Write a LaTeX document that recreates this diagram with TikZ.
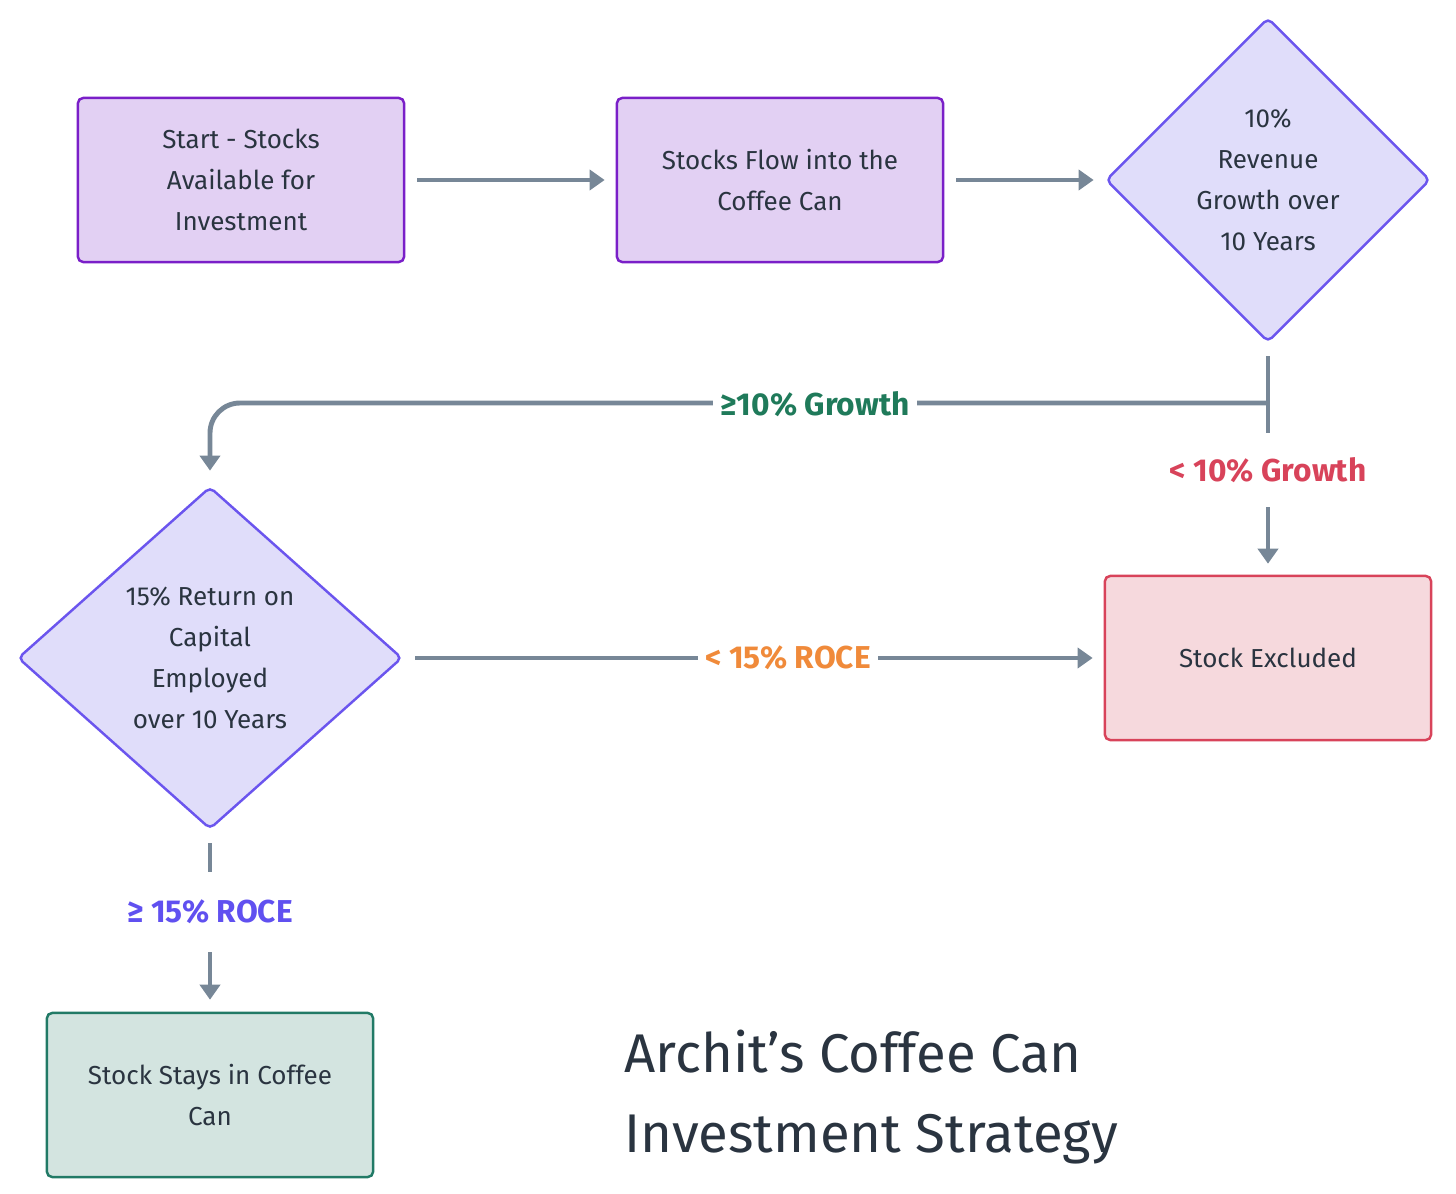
\documentclass[tikz,border=0pt]{standalone}
\usepackage{fontspec}
\setmainfont{Fira Sans}
\usetikzlibrary{shapes.geometric,arrows.meta}
\definecolor{boxf}{HTML}{E2D0F3}\definecolor{boxd}{HTML}{7A1FC8}
\definecolor{diaf}{HTML}{E0DDFA}\definecolor{diad}{HTML}{6B55EE}
\definecolor{exf}{HTML}{F6D9DD}\definecolor{exd}{HTML}{D8435A}
\definecolor{stf}{HTML}{D3E4E0}\definecolor{std}{HTML}{217A66}
\definecolor{arrc}{HTML}{778797}\definecolor{ttl}{HTML}{2A3440}
\definecolor{lgreen}{HTML}{1F7A5A}\definecolor{lred}{HTML}{D8435A}
\definecolor{lorange}{HTML}{F08A3A}\definecolor{lpurple}{HTML}{6050F0}
\begin{document}
\begin{tikzpicture}[x=0.01cm,y=-0.01cm,
  txt/.style={align=center,font=\fontsize{7.4}{11.7}\selectfont,text=ttl},
  pbox/.style={draw=boxd,fill=boxf,line width=0.7pt,rounded corners=1.5pt,minimum width=3.26cm,minimum height=1.64cm,txt},
  dia/.style={diamond,draw=diad,fill=diaf,line width=0.7pt,rounded corners=1.5pt,inner sep=0pt},
  arr/.style={draw=arrc,line width=1.4pt,-{Triangle[length=0.15cm,width=0.2cm]}},
  ln/.style={draw=arrc,line width=1.4pt},
  lab/.style={fill=white,font=\bfseries\fontsize{9}{11}\selectfont,inner sep=2pt}]
\useasboundingbox (0,0) rectangle (1456,1194);
\node[pbox] (start) at (241,180) {Start - Stocks\\Available for\\Investment};
\node[pbox] (flow) at (780,180) {Stocks Flow into the\\Coffee Can};
\node[dia,minimum width=3.24cm,minimum height=3.24cm] (d1) at (1268,180) {};
\node[txt] at (1268,180) {10\%\\Revenue\\Growth over\\10 Years};
\node[dia,minimum width=3.84cm,minimum height=3.42cm] (d2) at (210,658) {};
\node[txt] at (210,658) {15\% Return on\\Capital\\Employed\\over 10 Years};
\node[pbox,draw=exd,fill=exf] (ex) at (1268,658) {Stock Excluded};
\node[pbox,draw=std,fill=stf] (st) at (210,1095) {Stock Stays in Coffee\\Can};
\node[anchor=west,align=left,text=ttl,font=\fontsize{15.5}{22.7}\selectfont] (title) at (612,1097) {Archit’s Coffee Can\\Investment Strategy};
\draw[arr,shorten <=0.12cm,shorten >=0.11cm] (start) -- (flow);
\draw[arr,shorten <=0.12cm,shorten >=0.11cm] (flow) -- (d1);
\coordinate (j) at (1268,403);
\draw[ln,shorten <=0.13cm] (d1.south) -- (j);
\draw[arr,rounded corners=0.3cm,shorten >=0.15cm] (j) -| (d2.north);
\draw[arr,shorten >=0.11cm] (j) -- (ex.north);
\draw[arr,shorten <=0.12cm,shorten >=0.11cm] (d2.east) -- (ex.west);
\draw[arr,shorten <=0.13cm,shorten >=0.12cm] (d2.south) -- (st.north);
\node[lab,text=lgreen] (l1) at (815,404) {≥10\% Growth};
\node[lab,text=lred,inner ysep=7pt] (l2) at (1268,470) {< 10\% Growth};
\node[lab,text=lorange] (l3) at (788,658) {< 15\% ROCE};
\node[lab,text=lpurple,inner ysep=8pt] (l4) at (210,912) {≥ 15\% ROCE};
\end{tikzpicture}
\end{document}
